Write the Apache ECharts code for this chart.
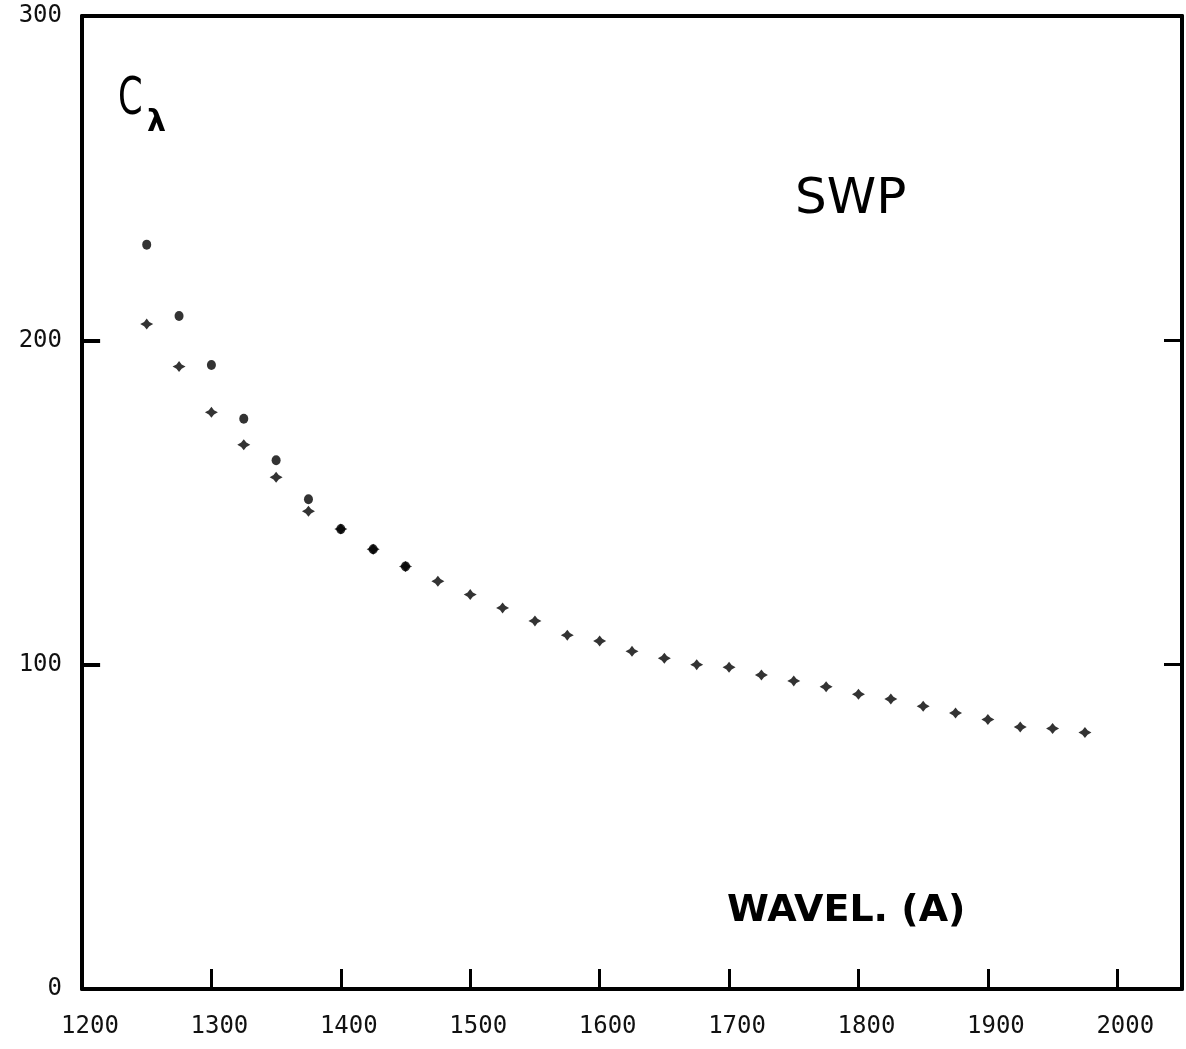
<!DOCTYPE html>
<html>
<head>
<meta charset="utf-8">
<title>SWP C-lambda vs wavelength</title>
<script src="https://cdn.jsdelivr.net/npm/echarts@6/dist/echarts.min.js"></script>
<style>
  html, body { margin: 0; padding: 0; background: #fff; }
  #chart { width: 1186px; height: 1049px; }
</style>
</head>
<body>
<div id="chart"></div>
<script>
// Wavelengths (Angstrom) and calibration factor C_lambda
const dotWavelengths = [1250, 1275, 1300, 1325, 1350, 1375, 1400, 1425, 1450];
const dotValues = [229.5, 207.5, 192.4, 175.8, 163.0, 151.0, 141.8, 135.6, 130.3];

const crossWavelengths = [1250, 1275, 1300, 1325, 1350, 1375, 1400, 1425, 1450, 1475,
  1500, 1525, 1550, 1575, 1600, 1625, 1650, 1675, 1700, 1725,
  1750, 1775, 1800, 1825, 1850, 1875, 1900, 1925, 1950, 1975];
const crossValues = [205.0, 191.9, 177.8, 167.8, 157.8, 147.3, 141.8, 135.6, 130.3, 125.7,
  121.6, 117.5, 113.5, 109.1, 107.3, 104.1, 102.0, 100.0, 99.2, 96.8,
  95.0, 93.2, 90.9, 89.4, 87.2, 85.1, 83.1, 80.8, 80.3, 79.1];

const xTicks = [1200, 1300, 1400, 1500, 1600, 1700, 1800, 1900, 2000];
const yTicks = [0, 100, 200, 300];

const ink = '#000';
const labelFont = 'DejaVu Sans Mono';

const pair = (xs, ys) => xs.map((x, i) => [x, ys[i]]);

// four-pointed star used for the second set of points
const starPath = 'path://M0,-5 L2,-2 L5,0 L2,2 L0,5 L-2,2 L-5,0 L-2,-2 Z';

const frameLine = { show: true, onZero: false, lineStyle: { color: ink, width: 4 } };
const innerTick = len => ({ show: true, inside: true, length: len, lineStyle: { color: ink, width: 3 } });

const xMin = xTicks[0], xMax = 2050;
const leftTickLength = 20;

const chart = echarts.init(document.getElementById('chart'), null, { renderer: 'canvas' });

chart.setOption({
  backgroundColor: '#fff',
  animation: false,
  grid: { left: 82, right: 4, top: 16, bottom: 60, containLabel: false },
  xAxis: [
    {
      type: 'value',
      position: 'bottom',
      min: xMin,
      max: xMax,
      interval: 100,
      axisLine: frameLine,
      axisTick: innerTick(20),
      axisLabel: {
        show: true, margin: 26, color: '#111', fontFamily: labelFont, fontSize: 24,
        padding: [0, 0, 0, 16],
        customValues: xTicks,
        formatter: v => String(v)
      },
      splitLine: { show: false }
    },
    {
      type: 'value',
      position: 'top',
      min: xMin,
      max: xMax,
      interval: 100,
      axisLine: frameLine,
      axisTick: { show: false },
      axisLabel: { show: false },
      splitLine: { show: false }
    }
  ],
  yAxis: [
    {
      type: 'value',
      position: 'left',
      min: yTicks[0],
      max: yTicks[yTicks.length - 1],
      interval: 100,
      axisLine: frameLine,
      axisTick: { show: false },
      axisLabel: {
        show: true, margin: 20, color: '#111', fontFamily: labelFont, fontSize: 24,
        customValues: yTicks,
        formatter: v => String(v)
      },
      splitLine: { show: false }
    },
    {
      type: 'value',
      position: 'right',
      min: yTicks[0],
      max: yTicks[yTicks.length - 1],
      interval: 100,
      axisLine: frameLine,
      axisTick: innerTick(18),
      axisLabel: { show: false },
      splitLine: { show: false }
    }
  ],
  series: [
    {
      name: 'dots',
      type: 'scatter',
      xAxisIndex: 0,
      yAxisIndex: 0,
      data: pair(dotWavelengths, dotValues),
      symbol: 'circle',
      symbolSize: [9, 10],
      itemStyle: { color: ink }
    },
    {
      name: 'stars',
      type: 'scatter',
      xAxisIndex: 0,
      yAxisIndex: 0,
      data: pair(crossWavelengths, crossValues),
      symbol: starPath,
      symbolSize: [13, 11],
      itemStyle: { color: ink }
    },
    {
      // short ticks on the left frame edge, pointing into the plot
      name: 'leftTicks',
      type: 'line',
      xAxisIndex: 0,
      yAxisIndex: 0,
      silent: true,
      symbol: 'none',
      data: [],
      markLine: {
        silent: true,
        symbol: ['none', 'none'],
        label: { show: false },
        lineStyle: { color: ink, width: 4, type: 'solid' },
        data: yTicks.slice(1, -1).map(v => [
          { coord: [xMin, v] },
          { coord: [xMin + 14, v] }
        ])
      }
    }
  ],
  graphic: [
    {
      type: 'text',
      left: 118, top: 74,
      scaleX: 0.68,
      style: { text: 'C', font: '52px "DejaVu Sans"', fill: ink }
    },
    {
      type: 'text',
      left: 147, top: 108,
      style: { text: 'λ', font: 'bold 30px "DejaVu Sans"', fill: ink }
    },
    {
      type: 'text',
      left: 795, top: 175,
      style: { text: 'SWP', font: '50px "DejaVu Sans"', fill: ink }
    },
    {
      type: 'text',
      left: 727, top: 892,
      style: { text: 'WAVEL. (A)', font: 'bold 38px "DejaVu Sans"', fill: ink }
    }
  ]
});
</script>
</body>
</html>
